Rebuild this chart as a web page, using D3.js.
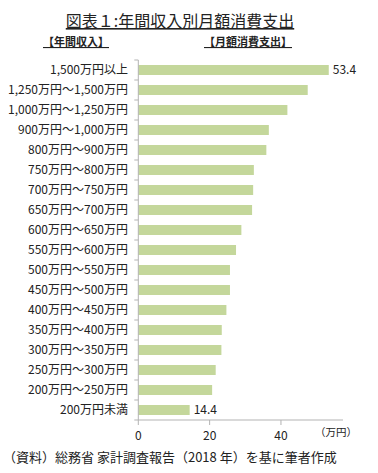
<!DOCTYPE html>
<html>
<head>
<meta charset="utf-8">
<script src="https://cdn.jsdelivr.net/npm/d3@7"></script>
<style>
  body { margin: 0; background: #fff; }
  text { font-family: "Noto Sans CJK JP", "Noto Sans", sans-serif; fill: #222; }
</style>
</head>
<body>
<div id="chart"></div>
<script>
// categories (top to bottom) and monthly spending (万円)
var incomes = ["1,500万円以上", "1,250万円～1,500万円", "1,000万円～1,250万円", "900万円～1,000万円",
  "800万円～900万円", "750万円～800万円", "700万円～750万円", "650万円～700万円",
  "600万円～650万円", "550万円～600万円", "500万円～550万円", "450万円～500万円",
  "400万円～450万円", "350万円～400万円", "300万円～350万円", "250万円～300万円",
  "200万円～250万円", "200万円未満"];
var spending = [53.4, 47.5, 41.8, 36.6, 35.9, 32.4, 32.2, 31.9, 28.9, 27.4,
  25.7, 25.7, 24.7, 23.4, 23.3, 21.7, 20.7, 14.4];
var xTicks = [0, 20, 40];
var labelled = ["1,500万円以上", "200万円未満"];

var W = 378, H = 473;
var svg = d3.select("#chart").append("svg")
  .attr("width", W).attr("height", H);

var x = d3.scaleLinear().domain([0, 60]).range([138.3, 352.3]);
var y = d3.scaleBand().domain(incomes).range([60, 420])
  .paddingInner(0.5).paddingOuter(0.25);

var data = incomes.map(function(d, i) { return {cat: d, v: spending[i]}; });

// title
svg.append("text")
  .attr("x", 180).attr("y", 27)
  .attr("text-anchor", "middle")
  .style("font-size", "16px")
  .style("text-decoration", "underline")
  .text("図表１:年間収入別月額消費支出");

svg.append("text")
  .attr("x", 43).attr("y", 46)
  .style("font-size", "11px").style("font-weight", "bold")
  .style("text-decoration", "underline")
  .text("【年間収入】");
svg.append("text")
  .attr("x", 204).attr("y", 46)
  .style("font-size", "11px").style("font-weight", "bold")
  .style("text-decoration", "underline")
  .text("【月額消費支出】");

// bars
svg.selectAll("rect.bar")
  .data(data)
  .enter().append("rect")
    .attr("class", "bar")
    .attr("x", x(0))
    .attr("y", function(d) { return y(d.cat); })
    .attr("width", function(d) { return x(d.v) - x(0); })
    .attr("height", y.bandwidth())
    .attr("fill", "#c4d79b");

// value labels (first and last only)
svg.selectAll("text.val")
  .data(data.filter(function(d) { return labelled.indexOf(d.cat) >= 0; }))
  .enter().append("text")
    .attr("class", "val")
    .attr("x", function(d) { return x(d.v) + 4; })
    .attr("y", function(d) { return y(d.cat) + y.bandwidth() / 2; })
    .attr("dy", "0.36em")
    .style("font-size", "12px")
    .text(function(d) { return d.v.toFixed(1); });

// category labels
svg.selectAll("text.cat")
  .data(incomes)
  .enter().append("text")
    .attr("class", "cat")
    .attr("x", 128)
    .attr("y", function(d) { return y(d) + y.bandwidth() / 2; })
    .attr("dy", "0.36em")
    .attr("text-anchor", "end")
    .style("font-size", "12px")
    .text(function(d) { return d; });

// y axis line + boundary ticks
var axisCol = "#b3b3b3";
svg.append("line")
  .attr("x1", x(0)).attr("x2", x(0))
  .attr("y1", 60).attr("y2", 420)
  .attr("stroke", axisCol);
svg.selectAll("line.ytick")
  .data(d3.range(incomes.length + 1))
  .enter().append("line")
    .attr("class", "ytick")
    .attr("x1", x(0) - 4).attr("x2", x(0))
    .attr("y1", function(i) { return 60 + i * y.step(); })
    .attr("y2", function(i) { return 60 + i * y.step(); })
    .attr("stroke", axisCol);

// x axis
svg.append("line")
  .attr("x1", x(0)).attr("x2", x(57.4))
  .attr("y1", 420).attr("y2", 420)
  .attr("stroke", axisCol);
svg.selectAll("line.xtick")
  .data(xTicks)
  .enter().append("line")
    .attr("class", "xtick")
    .attr("x1", function(d) { return x(d); }).attr("x2", function(d) { return x(d); })
    .attr("y1", 420).attr("y2", 425)
    .attr("stroke", axisCol);
svg.selectAll("text.xlab")
  .data(xTicks)
  .enter().append("text")
    .attr("class", "xlab")
    .attr("x", function(d) { return x(d); })
    .attr("y", 440)
    .attr("text-anchor", "middle")
    .style("font-size", "12px")
    .text(function(d) { return d; });

svg.append("text")
  .attr("x", 336).attr("y", 436)
  .attr("text-anchor", "middle")
  .style("font-size", "10.5px")
  .text("（万円）");

// source
svg.append("text")
  .attr("x", 3).attr("y", 462)
  .style("font-size", "13px")
  .text("（資料）総務省  家計調査報告（2018 年）を基に筆者作成");
</script>
</body>
</html>
